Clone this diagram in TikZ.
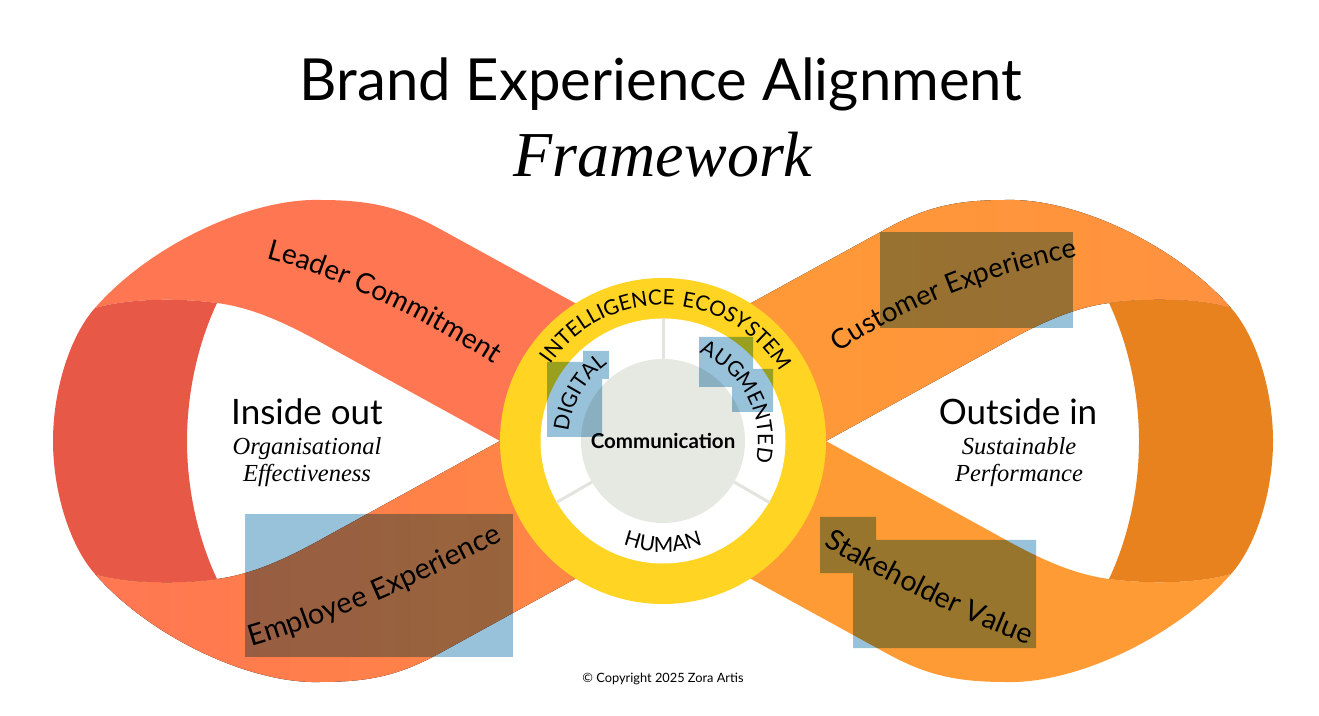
\documentclass[tikz,border=0pt]{standalone}
\usepackage{fontspec}
\setmainfont{Liberation Serif}
\setsansfont{Lato}
\newfontfamily\ringfont[LetterSpace=8]{Lato}
\usetikzlibrary{calc,decorations.text}

\definecolor{coral}{HTML}{FF7752}
\definecolor{coralwarm}{HTML}{FF8A42}
\definecolor{coraldark}{HTML}{E85846}
\definecolor{amber}{HTML}{FF9B35}
\definecolor{amberwarm}{HTML}{FF9140}
\definecolor{amberdark}{HTML}{E8821E}
\definecolor{ringyellow}{HTML}{FFD422}
\definecolor{hubgrey}{HTML}{E6E8E2}
\definecolor{spokegrey}{HTML}{E3E4DE}
\definecolor{markblue}{HTML}{98C1DA}

% outlines of the left loop, the right loop is its mirror image
\def\upperband{(663,363.6) -- (440,486) .. controls (400,508) and (370,515) .. (320,515)
  .. controls (250,517) and (150,470) .. (95,407)
  .. controls (130,417) and (180,417) .. (217,412)
  .. controls (255,407) and (290,390) .. (330,367.5) -- (500,274) -- (663,184.4) -- cycle}
\def\lowerband{(663,184.4) -- (440,62) .. controls (400,40) and (370,33) .. (320,33)
  .. controls (250,31) and (150,78) .. (95,141)
  .. controls (130,131) and (180,131) .. (217,136)
  .. controls (255,141) and (290,158) .. (330,180.5) -- (500,274) -- (663,363.6) -- cycle}
\def\backside{(95,407) .. controls (130,417) and (180,417) .. (217,412)
  .. controls (195,365) and (187,315) .. (187,274)
  .. controls (187,233) and (195,183) .. (217,136)
  .. controls (180,131) and (130,131) .. (95,141)
  .. controls (70,169) and (53,223) .. (53,274)
  .. controls (53,325) and (70,379) .. (95,407) -- cycle}

\begin{document}
\begin{tikzpicture}[x=1pt,y=1pt,
    bandtext/.style 2 args={decorate,decoration={text along path,text align=center,
        text={|\sffamily\fontsize{#1}{#1}\selectfont|#2}}},
    ringtext/.style={decorate,decoration={text along path,text align=center,
        text={|\ringfont\fontsize{21}{21}\selectfont|#1}}},
    lobehead/.style={anchor=base,font=\sffamily\fontsize{35}{37}\selectfont},
    lobesub/.style={anchor=base,font=\itshape\fontsize{24.5}{26}\selectfont},
    spoke/.style={spokegrey,line width=3pt},
    marker/.style={fill=markblue,blend mode=multiply}]

  \useasboundingbox (0,0) rectangle (1319,715);
  \fill[white] (0,0) rectangle (1319,715);

  \node[anchor=base,font=\sffamily\fontsize{58}{60}\selectfont] (title) at (661,614) {Brand Experience Alignment};
  \node[anchor=base,font=\itshape\fontsize{64}{66}\selectfont] (subtitle) at (663,538) {Framework};

  % left loop
  \fill[coral] \upperband;
  \fill[left color=coral,right color=coralwarm] \lowerband;
  \fill[coraldark] \backside;

  % right loop
  \begin{scope}[shift={(1326,0)},xscale=-1]
    \fill[left color=amber,right color=amberwarm] \upperband;
    \fill[amber] \lowerband;
    \fill[amberdark] \backside;
  \end{scope}

  % centre rings
  \coordinate (hub) at (663,274);
  \fill[ringyellow] (hub) circle[radius=163];
  \fill[white] (hub) circle[radius=122.5];
  \foreach \a in {90,210,330}
    \draw[spoke] ($(hub)+(\a:80)$) -- ($(hub)+(\a:123)$);
  \fill[hubgrey] (hub) circle[radius=82];
  \node[font=\sffamily\bfseries\fontsize{20.5}{22}\selectfont] (hubtext) at (hub) {Communication};

  \path[ringtext={INTELLIGENCE ECOSYSTEM}] ($(hub)+(160:136)$) arc[start angle=160,end angle=16,radius=136];
  \path[ringtext={DIGITAL}] ($(hub)+(190:95)$) arc[start angle=190,end angle=110,radius=95];
  \path[ringtext={AUGMENTED}] ($(hub)+(85:95)$) arc[start angle=85,end angle=-30,radius=95];
  \path[ringtext={HUMAN}] ($(hub)+(230:111)$) arc[start angle=230,end angle=310,radius=111];

  % band labels
  \path[bandtext={28}{Leader Commitment}] (248,461) .. controls (318,448) and (430,395) .. (510,340);
  \path[bandtext={29}{Employee Experience}] (236,64) .. controls (318,86) and (420,130) .. (517,182);
  \path[bandtext={27.5}{Customer Experience}] (829,355) .. controls (889,400) and (989,443) .. (1089,460);
  \path[bandtext={28.5}{Stakeholder Value}] (812,176) .. controls (867,144) and (958,95) .. (1040,66);

  \node[lobehead] (inside) at (307,290) {Inside out};
  \node[lobesub] (insidea) at (307,260) {Organisational};
  \node[lobesub] (insideb) at (307,233) {Effectiveness};
  \node[lobehead] (outside) at (1018,290) {Outside in};
  \node[lobesub] (outsidea) at (1019,260) {Sustainable};
  \node[lobesub] (outsideb) at (1019,233) {Performance};

  \node[font=\sffamily\fontsize{12.8}{14}\selectfont] (copy) at (663,36) {\textcopyright{} Copyright 2025 Zora Artis};

  % highlight boxes
  \fill[marker] (245,58) rectangle (513,201);
  \fill[marker] (880,387) rectangle (1073,483);
  \fill[marker] (820,142) rectangle (876,198) (853,67) rectangle (1036,175);
  \fill[marker] (547,278) rectangle (602,353) (583,336) rectangle (609,364);
  \fill[marker] (699,328) rectangle (753,378) (732,303) rectangle (773,346);
\end{tikzpicture}
\end{document}
